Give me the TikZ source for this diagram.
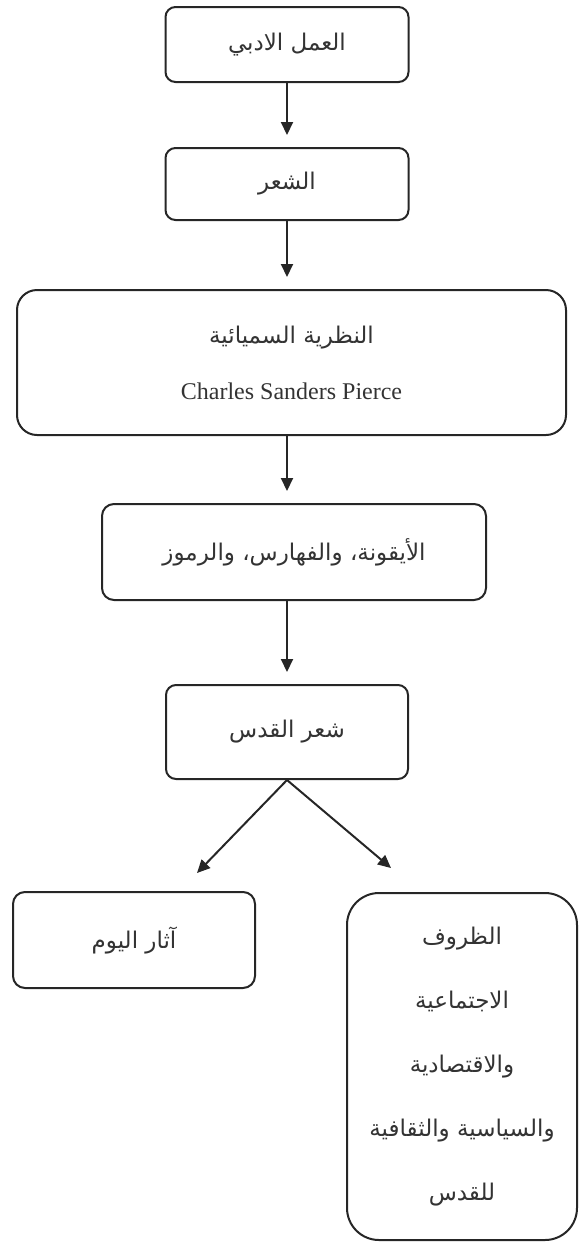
\documentclass[tikz,border=0pt]{standalone}
\usepackage{fontspec}
\setmainfont{Liberation Serif}
\newfontfamily\arabicfont[Script=Arabic]{DejaVu Sans}
\TeXXeTstate=1
\usetikzlibrary{arrows.meta,positioning}
\newcommand{\artxt}[1]{{\arabicfont\beginR #1\endR}}

\begin{document}
\begin{tikzpicture}[x=0.5pt, y=-0.5pt,
	box/.style={draw=black!85, line width=1pt, rounded corners=5pt, text=black!80, align=center, inner sep=2pt, font=\fontsize{11.5}{13}\selectfont},
	link/.style={-{Triangle[length=6.5pt,width=6pt]}, line width=1pt, black!85, shorten >=6pt}]
			\useasboundingbox (0,0) rectangle (579,1243);
			
			% main column
			\node[box, minimum width=121.5pt, minimum height=37.5pt] (adab) at (287,44.5) {\artxt{العمل الادبي}};
			\node[box, minimum width=121.5pt, minimum height=36pt] (shir) at (287,184) {\artxt{الشعر}};
			\node[box, rounded corners=10pt, minimum width=274.5pt, minimum height=72.5pt, font=\fontsize{11.5}{28}\selectfont] (nazar) at (291.5,362.5) {\artxt{النظرية السميائية}\\{\fontsize{12}{14}\selectfont Charles Sanders Pierce}};
			\node[box, rounded corners=6pt, minimum width=192pt, minimum height=48pt] (ramz) at (294,552) {\artxt{الأيقونة، والفهارس، والرموز}};
			\node[box, minimum width=121pt, minimum height=47pt] (quds) at (287,732) {\artxt{شعر القدس}};
			
			% two branches
			\node[box, rounded corners=6pt, minimum width=121pt, minimum height=48pt] (athar) at (134,940) {\artxt{آثار اليوم}};
			\node[box, rounded corners=16pt, minimum width=115pt, minimum height=173.5pt, font=\fontsize{11.5}{32}\selectfont] (zuruf) at (462,1066.5) {\artxt{الظروف}\\\artxt{الاجتماعية}\\\artxt{والاقتصادية}\\\artxt{والسياسية والثقافية}\\\artxt{للقدس}};
			
			\coordinate (tipL) at (197,873);
			\coordinate (tipR) at (391,868);
			
			\draw[link] (adab.south) -- (adab.south |- shir.north);
			\draw[link] (shir.south) -- (shir.south |- nazar.north);
			\draw[link] (quds.south |- nazar.south) -- (quds.south |- ramz.north);
			\draw[link] (quds.south |- ramz.south) -- (quds.north);
			\draw[link, shorten >=0pt] (quds.south) -- (tipL);
			\draw[link, shorten >=0pt] (quds.south) -- (tipR);
		\end{tikzpicture}
\end{document}
